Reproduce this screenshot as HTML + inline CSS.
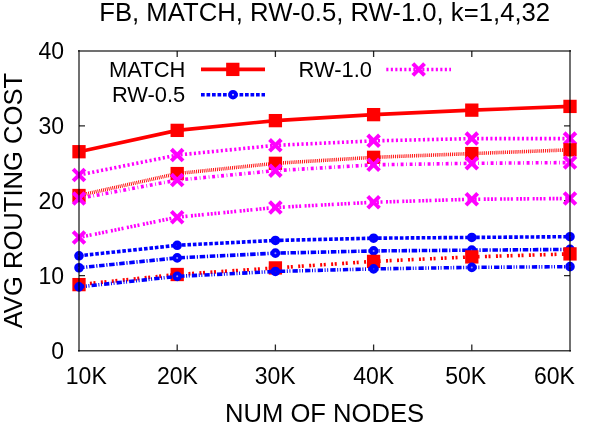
<!DOCTYPE html>
<html><head><meta charset="utf-8"><title>chart</title>
<style>
html,body{margin:0;padding:0;background:#fff;}
body{width:602px;height:426px;position:relative;overflow:hidden;font-family:"Liberation Sans",sans-serif;color:#000;}
</style></head><body>
<svg width="602" height="426" viewBox="0 0 602 426" style="position:absolute;left:0;top:0;will-change:transform" font-family="'Liberation Sans', sans-serif" fill="#000">
<path d="M177.20 350.5v-6M177.20 51.0v6M275.40 350.5v-6M275.40 51.0v6M373.60 350.5v-6M373.60 51.0v6M471.80 350.5v-6M471.80 51.0v6M79.0 275.62h6M570.0 275.62h-6M79.0 200.75h6M570.0 200.75h-6M79.0 125.88h6M570.0 125.88h-6" stroke="#000" stroke-width="1.3" fill="none" opacity="0.85"/>
<polyline points="79.00,151.71 177.20,130.37 275.40,120.63 373.60,114.64 471.80,110.15 570.00,106.41" fill="none" stroke="#ff0000" stroke-width="3.6"/>
<rect x="72.35" y="145.06" width="13.3" height="13.3" fill="#ff0000"/>
<rect x="170.55" y="123.72" width="13.3" height="13.3" fill="#ff0000"/>
<rect x="268.75" y="113.98" width="13.3" height="13.3" fill="#ff0000"/>
<rect x="366.95" y="107.99" width="13.3" height="13.3" fill="#ff0000"/>
<rect x="465.15" y="103.50" width="13.3" height="13.3" fill="#ff0000"/>
<rect x="563.35" y="99.76" width="13.3" height="13.3" fill="#ff0000"/>
<polyline points="79.00,255.78 177.20,245.30 275.40,240.43 373.60,238.19 471.80,237.44 570.00,236.69" fill="none" stroke="#0000ff" stroke-width="3.6" stroke-dasharray="3.6 1.85"/>
<circle cx="79.00" cy="255.78" r="2.8" fill="#0000ff" fill-opacity="0.7" stroke="#0000ff" stroke-width="4.0"/>
<circle cx="177.20" cy="245.30" r="2.8" fill="#0000ff" fill-opacity="0.7" stroke="#0000ff" stroke-width="4.0"/>
<circle cx="275.40" cy="240.43" r="2.8" fill="#0000ff" fill-opacity="0.7" stroke="#0000ff" stroke-width="4.0"/>
<circle cx="373.60" cy="238.19" r="2.8" fill="#0000ff" fill-opacity="0.7" stroke="#0000ff" stroke-width="4.0"/>
<circle cx="471.80" cy="237.44" r="2.8" fill="#0000ff" fill-opacity="0.7" stroke="#0000ff" stroke-width="4.0"/>
<circle cx="570.00" cy="236.69" r="2.8" fill="#0000ff" fill-opacity="0.7" stroke="#0000ff" stroke-width="4.0"/>
<polyline points="79.00,174.99 177.20,155.08 275.40,145.34 373.60,140.85 471.80,138.60 570.00,138.60" fill="none" stroke="#ff00ff" stroke-width="3.6" stroke-dasharray="2.1 2.4"/>
<path d="M73.15 169.14L84.85 180.84M73.15 180.84L84.85 169.14" stroke="#ff00ff" stroke-width="4" fill="none"/>
<path d="M171.35 149.23L183.05 160.93M171.35 160.93L183.05 149.23" stroke="#ff00ff" stroke-width="4" fill="none"/>
<path d="M269.55 139.49L281.25 151.19M269.55 151.19L281.25 139.49" stroke="#ff00ff" stroke-width="4" fill="none"/>
<path d="M367.75 135.00L379.45 146.70M367.75 146.70L379.45 135.00" stroke="#ff00ff" stroke-width="4" fill="none"/>
<path d="M465.95 132.75L477.65 144.45M465.95 144.45L477.65 132.75" stroke="#ff00ff" stroke-width="4" fill="none"/>
<path d="M564.15 132.75L575.85 144.45M564.15 144.45L575.85 132.75" stroke="#ff00ff" stroke-width="4" fill="none"/>
<polyline points="79.00,195.51 177.20,173.57 275.40,163.31 373.60,157.32 471.80,153.58 570.00,149.83" fill="none" stroke="#ff0000" stroke-width="3.6" stroke-dasharray="0.9 1.0"/>
<rect x="72.35" y="188.86" width="13.3" height="13.3" fill="#ff0000"/>
<rect x="170.55" y="166.92" width="13.3" height="13.3" fill="#ff0000"/>
<rect x="268.75" y="156.66" width="13.3" height="13.3" fill="#ff0000"/>
<rect x="366.95" y="150.67" width="13.3" height="13.3" fill="#ff0000"/>
<rect x="465.15" y="146.93" width="13.3" height="13.3" fill="#ff0000"/>
<rect x="563.35" y="143.18" width="13.3" height="13.3" fill="#ff0000"/>
<polyline points="79.00,267.76 177.20,257.88 275.40,253.16 373.60,250.92 471.80,250.17 570.00,249.42" fill="none" stroke="#0000ff" stroke-width="3.6" stroke-dasharray="5.5 1.7 1.2 1.7"/>
<circle cx="79.00" cy="267.76" r="2.8" fill="#0000ff" fill-opacity="0.7" stroke="#0000ff" stroke-width="4.0"/>
<circle cx="177.20" cy="257.88" r="2.8" fill="#0000ff" fill-opacity="0.7" stroke="#0000ff" stroke-width="4.0"/>
<circle cx="275.40" cy="253.16" r="2.8" fill="#0000ff" fill-opacity="0.7" stroke="#0000ff" stroke-width="4.0"/>
<circle cx="373.60" cy="250.92" r="2.8" fill="#0000ff" fill-opacity="0.7" stroke="#0000ff" stroke-width="4.0"/>
<circle cx="471.80" cy="250.17" r="2.8" fill="#0000ff" fill-opacity="0.7" stroke="#0000ff" stroke-width="4.0"/>
<circle cx="570.00" cy="249.42" r="2.8" fill="#0000ff" fill-opacity="0.7" stroke="#0000ff" stroke-width="4.0"/>
<polyline points="79.00,198.50 177.20,180.08 275.40,170.65 373.60,164.81 471.80,163.31 570.00,162.56" fill="none" stroke="#ff00ff" stroke-width="3.6" stroke-dasharray="2.9 2.6 0.8 2.7"/>
<path d="M73.15 192.65L84.85 204.35M73.15 204.35L84.85 192.65" stroke="#ff00ff" stroke-width="4" fill="none"/>
<path d="M171.35 174.23L183.05 185.93M171.35 185.93L183.05 174.23" stroke="#ff00ff" stroke-width="4" fill="none"/>
<path d="M269.55 164.80L281.25 176.50M269.55 176.50L281.25 164.80" stroke="#ff00ff" stroke-width="4" fill="none"/>
<path d="M367.75 158.96L379.45 170.66M367.75 170.66L379.45 158.96" stroke="#ff00ff" stroke-width="4" fill="none"/>
<path d="M465.95 157.46L477.65 169.16M465.95 169.16L477.65 157.46" stroke="#ff00ff" stroke-width="4" fill="none"/>
<path d="M564.15 156.71L575.85 168.41M564.15 168.41L575.85 156.71" stroke="#ff00ff" stroke-width="4" fill="none"/>
<polyline points="79.00,284.61 177.20,274.50 275.40,267.91 373.60,261.40 471.80,256.91 570.00,253.91" fill="none" stroke="#ff0000" stroke-width="3.6" stroke-dasharray="2 1.6 2 5.4"/>
<rect x="72.35" y="277.96" width="13.3" height="13.3" fill="#ff0000"/>
<rect x="170.55" y="267.85" width="13.3" height="13.3" fill="#ff0000"/>
<rect x="268.75" y="261.26" width="13.3" height="13.3" fill="#ff0000"/>
<rect x="366.95" y="254.75" width="13.3" height="13.3" fill="#ff0000"/>
<rect x="465.15" y="250.26" width="13.3" height="13.3" fill="#ff0000"/>
<rect x="563.35" y="247.26" width="13.3" height="13.3" fill="#ff0000"/>
<polyline points="79.00,286.86 177.20,276.37 275.40,271.43 373.60,268.89 471.80,267.39 570.00,266.64" fill="none" stroke="#0000ff" stroke-width="3.6" stroke-dasharray="5.3 1.6 1 1.6 1 2.1"/>
<circle cx="79.00" cy="286.86" r="2.8" fill="#0000ff" fill-opacity="0.7" stroke="#0000ff" stroke-width="4.0"/>
<circle cx="177.20" cy="276.37" r="2.8" fill="#0000ff" fill-opacity="0.7" stroke="#0000ff" stroke-width="4.0"/>
<circle cx="275.40" cy="271.43" r="2.8" fill="#0000ff" fill-opacity="0.7" stroke="#0000ff" stroke-width="4.0"/>
<circle cx="373.60" cy="268.89" r="2.8" fill="#0000ff" fill-opacity="0.7" stroke="#0000ff" stroke-width="4.0"/>
<circle cx="471.80" cy="267.39" r="2.8" fill="#0000ff" fill-opacity="0.7" stroke="#0000ff" stroke-width="4.0"/>
<circle cx="570.00" cy="266.64" r="2.8" fill="#0000ff" fill-opacity="0.7" stroke="#0000ff" stroke-width="4.0"/>
<polyline points="79.00,237.44 177.20,217.22 275.40,207.49 373.60,202.25 471.80,199.25 570.00,198.50" fill="none" stroke="#ff00ff" stroke-width="3.6" stroke-dasharray="2 1.6 2 1.6 2 1.6 2 3.5"/>
<path d="M73.15 231.59L84.85 243.29M73.15 243.29L84.85 231.59" stroke="#ff00ff" stroke-width="4" fill="none"/>
<path d="M171.35 211.37L183.05 223.07M171.35 223.07L183.05 211.37" stroke="#ff00ff" stroke-width="4" fill="none"/>
<path d="M269.55 201.64L281.25 213.34M269.55 213.34L281.25 201.64" stroke="#ff00ff" stroke-width="4" fill="none"/>
<path d="M367.75 196.40L379.45 208.10M367.75 208.10L379.45 196.40" stroke="#ff00ff" stroke-width="4" fill="none"/>
<path d="M465.95 193.40L477.65 205.10M465.95 205.10L477.65 193.40" stroke="#ff00ff" stroke-width="4" fill="none"/>
<path d="M564.15 192.65L575.85 204.35M564.15 204.35L575.85 192.65" stroke="#ff00ff" stroke-width="4" fill="none"/>
<circle cx="177.20" cy="257.88" r="1.0" fill="#fff" fill-opacity="0.55"/>
<circle cx="275.40" cy="253.16" r="1.0" fill="#fff" fill-opacity="0.55"/>
<circle cx="373.60" cy="250.92" r="1.0" fill="#fff" fill-opacity="0.55"/>
<circle cx="177.20" cy="276.37" r="1.0" fill="#fff" fill-opacity="0.55"/>
<circle cx="471.80" cy="267.39" r="1.0" fill="#fff" fill-opacity="0.55"/>
<path d="M201 69.4H265" stroke="#ff0000" stroke-width="3.6" fill="none"/>
<rect x="226.15" y="62.75" width="13.3" height="13.3" fill="#ff0000"/>
<path d="M201 94.7H265" stroke="#0000ff" stroke-width="3.6" stroke-dasharray="3.7 1.8" fill="none"/>
<circle cx="233.00" cy="94.70" r="2.8" fill="#0000ff" fill-opacity="0.7" stroke="#0000ff" stroke-width="4.0"/>
<circle cx="233.0" cy="94.7" r="0.9" fill="#fff" fill-opacity="0.85"/>
<path d="M386.3 69.5H451" stroke="#ff00ff" stroke-width="3.6" stroke-dasharray="2.1 2.4" fill="none"/>
<path d="M412.85 63.65L424.55 75.35M412.85 75.35L424.55 63.65" stroke="#ff00ff" stroke-width="4" fill="none"/>
<path d="M79.0 50.0V351.4M570.0 50.0V351.4" stroke="#000" stroke-opacity="0.62" stroke-width="1.8" fill="none"/>
<path d="M78.0 51.0H571.0" stroke="#000" stroke-opacity="0.56" stroke-width="1.8" fill="none"/>
<path d="M78.0 350.7H571.0" stroke="#000" stroke-opacity="0.75" stroke-width="1.5" fill="none"/>
<text x="324.7" y="21.4" font-size="25.7" text-anchor="middle">FB, MATCH, RW-0.5, RW-1.0, k=1,4,32</text>
<text x="64.0" y="358.5" font-size="23.0" text-anchor="end">0</text>
<text x="64.0" y="283.625" font-size="23.0" text-anchor="end">10</text>
<text x="64.0" y="208.75" font-size="23.0" text-anchor="end">20</text>
<text x="64.0" y="133.875" font-size="23.0" text-anchor="end">30</text>
<text x="64.0" y="59.0" font-size="23.0" text-anchor="end">40</text>
<text x="86.3" y="384.2" font-size="23.0" text-anchor="middle">10K</text>
<text x="177.4" y="384.2" font-size="23.0" text-anchor="middle">20K</text>
<text x="275.2" y="384.2" font-size="23.0" text-anchor="middle">30K</text>
<text x="373.6" y="384.2" font-size="23.0" text-anchor="middle">40K</text>
<text x="465.7" y="384.2" font-size="23.0" text-anchor="middle">50K</text>
<text x="554.4" y="384.2" font-size="23.0" text-anchor="middle">60K</text>
<text x="324.6" y="421.7" font-size="25.6" text-anchor="middle">NUM OF NODES</text>
<text transform="translate(21.5 200.6) rotate(-90)" font-size="25.6" text-anchor="middle">AVG ROUTING COST</text>
<text x="185.3" y="77.0" font-size="21.9" text-anchor="end">MATCH</text>
<text x="185.3" y="102.2" font-size="21.9" text-anchor="end">RW-0.5</text>
<text x="372.0" y="77.0" font-size="21.9" text-anchor="end">RW-1.0</text>
</svg>
</body></html>
